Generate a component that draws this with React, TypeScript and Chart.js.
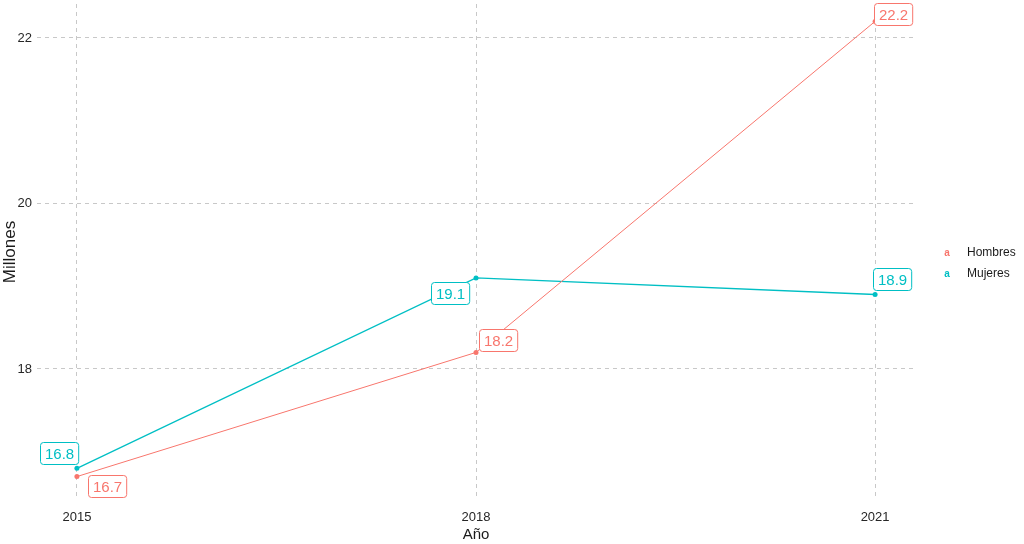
import React, { useEffect, useRef } from "react";
import { Chart, registerables } from "chart.js";

Chart.register(...registerables);

const years = [2015, 2018, 2021];
const hombres = [16.7, 18.2, 22.2];
const mujeres = [16.8, 19.1, 18.9];
const seriesNames = ["Hombres", "Mujeres"];
const yTicks = [18, 20, 22];

const COLORS = ["#F8766D", "#00BFC4"];
// label offsets (px) from each point, style config only
const LABEL_OFFSETS = [
  [[30, 9], [22, -12], [18, -7]],
  [[-18, -15], [-26, 15], [17, -15]],
];

const FONT = "'Liberation Sans', Arial, sans-serif";

const labelPlugin = {
  id: "boxLabels",
  afterDatasetsDraw(chart: any) {
    const ctx = chart.ctx;
    ctx.save();
    ctx.font = `15px ${FONT}`;
    ctx.textAlign = "center";
    ctx.textBaseline = "middle";
    chart.data.datasets.forEach((ds: any, di: number) => {
      const meta = chart.getDatasetMeta(di);
      meta.data.forEach((pt: any, i: number) => {
        const v = ds.data[i].y;
        const txt = v.toFixed(1);
        const [dx, dy] = LABEL_OFFSETS[di][i];
        const cx = pt.x + dx;
        const cy = pt.y + dy;
        const w = ctx.measureText(txt).width + 9;
        const h = 22;
        const x0 = Math.round(cx - w / 2);
        const y0 = Math.round(cy - h / 2);
        ctx.beginPath();
        ctx.roundRect(x0 + 0.5, y0 + 0.5, w, h, 3);
        ctx.fillStyle = "#ffffff";
        ctx.fill();
        ctx.lineWidth = 1;
        ctx.strokeStyle = COLORS[di];
        ctx.stroke();
        ctx.fillStyle = COLORS[di];
        ctx.fillText(txt, x0 + w / 2 + 0.5, y0 + h / 2 + 1.5);
      });
    });
    ctx.restore();
  },
};

const legendPlugin = {
  id: "ggLegend",
  afterDraw(chart: any) {
    const ctx = chart.ctx;
    ctx.save();
    ctx.textBaseline = "middle";
    seriesNames.forEach((name, i) => {
      const y = 253 + i * 21;
      ctx.font = `bold 10px ${FONT}`;
      ctx.fillStyle = COLORS[i];
      ctx.textAlign = "center";
      ctx.fillText("a", 947, y);
      ctx.font = `12px ${FONT}`;
      ctx.fillStyle = "#1a1a1a";
      ctx.textAlign = "left";
      ctx.fillText(name, 967, y);
    });
    ctx.restore();
  },
};

export default function App() {
  const ref = useRef<HTMLCanvasElement>(null);
  useEffect(() => {
    if (!ref.current) return;
    const mk = (arr: number[]) => years.map((x, i) => ({ x, y: arr[i] }));
    const chart = new Chart(ref.current, {
      type: "line",
      data: {
        datasets: [hombres, mujeres].map((arr, i) => ({
          label: seriesNames[i],
          data: mk(arr),
          borderColor: COLORS[i],
          backgroundColor: COLORS[i],
          borderWidth: i === 0 ? 1 : 1.3,
          pointRadius: 2.5,
          pointBorderWidth: 0,
          tension: 0,
        })),
      },
      options: {
        animation: false,
        responsive: false,
        layout: { padding: { top: 0, right: 109, bottom: 0, left: 0 } },
        plugins: { legend: { display: false }, tooltip: { enabled: false } },
        scales: {
          x: {
            type: "linear",
            min: 2014.7,
            max: 2021.3,
            afterBuildTicks: (s: any) => {
              s.ticks = years.map((v) => ({ value: v }));
            },
            afterFit: (s: any) => {
              s.height = 44;
              s.paddingLeft = 0;
              s.paddingRight = 0;
            },
            border: { display: false, dash: [4, 4] },
            grid: { color: "#c8c8c8", lineWidth: 1, drawTicks: false },
            ticks: {
              padding: 10,
              color: "#262626",
              font: { family: FONT, size: 13 },
              callback: (v: any) => String(v),
              maxRotation: 0,
            },
            title: {
              display: true,
              text: "Año",
              color: "#1a1a1a",
              font: { family: FONT, size: 15 },
              padding: 0,
            },
          } as any,
          y: {
            type: "linear",
            min: 16.417,
            max: 22.41,
            afterBuildTicks: (s: any) => {
              s.ticks = yTicks.map((v) => ({ value: v }));
            },
            afterFit: (s: any) => {
              s.width = 37;
              s.paddingTop = 0;
              s.paddingBottom = 0;
            },
            border: { display: false, dash: [4, 4] },
            grid: { color: "#c8c8c8", lineWidth: 1, drawTicks: false },
            ticks: {
              padding: 5,
              color: "#262626",
              font: { family: FONT, size: 13 },
              callback: (v: any) => String(v),
            },
            title: {
              display: true,
              text: "Millones",
              color: "#1a1a1a",
              font: { family: FONT, size: 17 },
              padding: 0,
            },
          } as any,
        },
      },
      plugins: [labelPlugin, legendPlugin],
    } as any);
    return () => chart.destroy();
  }, []);
  return (
    <div style={{ position: "absolute", left: 0, top: 0, width: 1024, height: 544, background: "#fff" }}>
      <canvas ref={ref} width={1024} height={544} style={{ width: 1024, height: 544 }} />
    </div>
  );
}
